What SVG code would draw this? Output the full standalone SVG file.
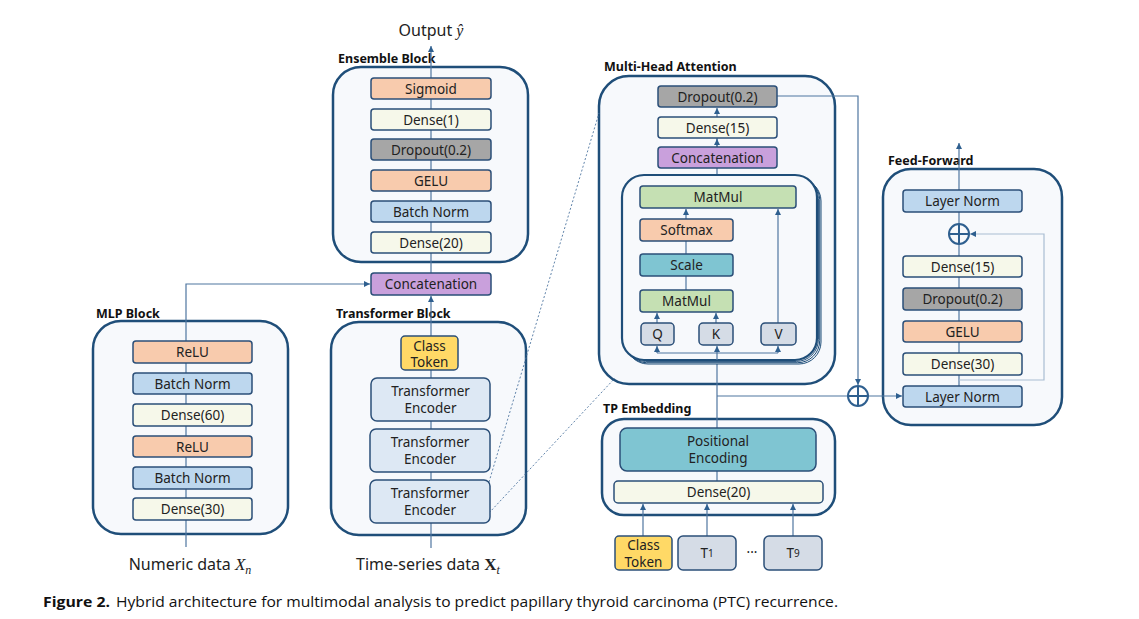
<svg xmlns="http://www.w3.org/2000/svg" width="1139" height="619" viewBox="0 0 1139 619">
<defs>
<style>
.blk{fill:#f7f9fc;stroke:#1f4e79;stroke-width:2.5}
.box{stroke:#2b4f78;stroke-width:1.5}
.or{fill:#f8cbad}.cr{fill:#f6f8ea}.gy{fill:#a6a6a6}.bl{fill:#bdd7ee}.pu{fill:#c9a0dc}
.gr{fill:#c5e0b3}.te{fill:#7fc5d2}.ye{fill:#ffd966}.en{fill:#dde8f4}.qk{fill:#d5dce6}
.t{font-family:"Noto Sans","Open Sans",sans-serif;font-size:13.5px;fill:#222;text-anchor:middle;dominant-baseline:central}
.lbl{font-family:"Noto Sans","Open Sans",sans-serif;font-size:12.5px;font-weight:bold;fill:#111}
.big{font-family:"Noto Sans","Open Sans",sans-serif;font-size:16px;fill:#222}
.m{font-family:"Liberation Serif","DejaVu Serif",serif;font-style:italic}
.ln{stroke:#4f76a0;stroke-width:1.2;fill:none}
.lt{stroke:#a9bdd2;stroke-width:1.2;fill:none}
.dot{stroke:#4f76a0;stroke-width:0.9;fill:none;stroke-dasharray:2 2}
.op{fill:none;stroke:#2e5f8f;stroke-width:2}
</style>
<marker id="ar" viewBox="0 0 8 8" refX="8" refY="4" markerWidth="6" markerHeight="6" orient="auto" markerUnits="userSpaceOnUse">
<path d="M0,0 L8,4 L0,8 z" fill="#2e5f8f"/>
</marker>
</defs>
<rect width="1139" height="619" fill="#ffffff"/>

<!-- block containers -->
<g id="ensemble-block"><rect class="blk" x="333" y="67" width="195" height="195" rx="28"/><text class="lbl" x="338" y="63">Ensemble Block</text></g>
<g id="mlp-block"><rect class="blk" x="93" y="321" width="195" height="213" rx="28"/><text class="lbl" x="96" y="318">MLP Block</text></g>
<g id="transformer-block"><rect class="blk" x="331" y="322" width="195" height="213" rx="28"/><text class="lbl" x="336" y="318">Transformer Block</text></g>
<g id="mha-block"><rect class="blk" x="599" y="76" width="236" height="308" rx="30"/><text class="lbl" x="604" y="71">Multi-Head Attention</text></g>
<g id="ff-block"><rect class="blk" x="883" y="169" width="179" height="256" rx="28"/><text class="lbl" x="888" y="165">Feed-Forward</text></g>
<g id="tp-block"><rect class="blk" x="602" y="419" width="233" height="96" rx="22"/><text class="lbl" x="603" y="413">TP Embedding</text></g>

<!-- connectors -->
<g id="connectors">
<line class="ln" x1="431" y1="273" x2="431" y2="46" marker-end="url(#ar)"/>
<polyline class="ln" points="186,547 186,284 370,284" marker-end="url(#ar)"/>
<line class="ln" x1="431" y1="548" x2="431" y2="296" marker-end="url(#ar)"/>
<line class="dot" x1="489" y1="482" x2="599" y2="113"/>
<line class="dot" x1="489" y1="513" x2="615" y2="378"/>
<line class="ln" x1="717" y1="175" x2="717" y2="108" marker-end="url(#ar)"/>
<line class="ln" x1="717" y1="147" x2="717" y2="139" marker-end="url(#ar)"/>
<polyline class="ln" points="777,96 858,96 858,385" marker-end="url(#ar)"/>
<line class="ln" x1="717" y1="483" x2="717" y2="346" marker-end="url(#ar)"/>
<polyline class="ln" points="717,396 848,396"/>
<line class="ln" x1="868" y1="396" x2="902" y2="396" marker-end="url(#ar)"/>
<line class="ln" x1="959" y1="386" x2="959" y2="143" marker-end="url(#ar)"/>
<polyline class="lt" points="959,380 1044,380 1044,234 970,234" marker-end="url(#ar)"/>
<line class="ln" x1="643" y1="536" x2="643" y2="504" marker-end="url(#ar)"/>
<line class="ln" x1="707" y1="536" x2="707" y2="504" marker-end="url(#ar)"/>
<line class="ln" x1="793" y1="536" x2="793" y2="504" marker-end="url(#ar)"/>
</g>

<!-- ensemble nodes -->
<g id="ens-sigmoid"><rect class="box or" x="371" y="78" width="120" height="21" rx="3"/><text class="t" x="431" y="88.5">Sigmoid</text></g>
<g id="ens-dense1"><rect class="box cr" x="371" y="109" width="120" height="21" rx="3"/><text class="t" x="431" y="119.5">Dense(1)</text></g>
<g id="ens-dropout"><rect class="box gy" x="371" y="139" width="120" height="21" rx="3"/><text class="t" x="431" y="149.5">Dropout(0.2)</text></g>
<g id="ens-gelu"><rect class="box or" x="371" y="170" width="120" height="21" rx="3"/><text class="t" x="431" y="180.5">GELU</text></g>
<g id="ens-bn"><rect class="box bl" x="371" y="201" width="120" height="21" rx="3"/><text class="t" x="431" y="211.5">Batch Norm</text></g>
<g id="ens-dense20"><rect class="box cr" x="371" y="232" width="120" height="21" rx="3"/><text class="t" x="431" y="242.5">Dense(20)</text></g>
<g id="concat"><rect class="box pu" x="371" y="273" width="120" height="22" rx="3"/><text class="t" x="431" y="284">Concatenation</text></g>
<g id="output"><text class="big" x="431" y="36" text-anchor="middle">Output <tspan class="m">ŷ</tspan></text></g>

<!-- MLP nodes -->
<g id="mlp-relu1"><rect class="box or" x="133" y="341" width="119" height="22" rx="3"/><text class="t" x="192.5" y="352">ReLU</text></g>
<g id="mlp-bn1"><rect class="box bl" x="133" y="373" width="119" height="21" rx="3"/><text class="t" x="192.5" y="383.5">Batch Norm</text></g>
<g id="mlp-dense60"><rect class="box cr" x="133" y="404" width="119" height="22" rx="3"/><text class="t" x="192.5" y="415">Dense(60)</text></g>
<g id="mlp-relu2"><rect class="box or" x="133" y="436" width="119" height="21" rx="3"/><text class="t" x="192.5" y="446.5">ReLU</text></g>
<g id="mlp-bn2"><rect class="box bl" x="133" y="467" width="119" height="22" rx="3"/><text class="t" x="192.5" y="478">Batch Norm</text></g>
<g id="mlp-dense30"><rect class="box cr" x="133" y="498" width="119" height="22" rx="3"/><text class="t" x="192.5" y="509">Dense(30)</text></g>
<g id="numeric-input"><text class="big" x="190" y="570" text-anchor="middle">Numeric data <tspan class="m" font-size="17">X</tspan><tspan class="m" font-size="12" dy="4">n</tspan></text></g>

<!-- Transformer nodes -->
<g id="tr-class-token"><rect class="box ye" x="401" y="336" width="57" height="34" rx="4"/><text class="t" x="429.5" y="345.5">Class</text><text class="t" x="429.5" y="361.5">Token</text></g>
<g id="tr-enc1"><rect class="box en" x="371" y="378" width="119" height="43" rx="6"/><text class="t" x="430.5" y="391">Transformer</text><text class="t" x="430.5" y="408">Encoder</text></g>
<g id="tr-enc2"><rect class="box en" x="370" y="429" width="120" height="43" rx="6"/><text class="t" x="430" y="442">Transformer</text><text class="t" x="430" y="459">Encoder</text></g>
<g id="tr-enc3"><rect class="box en" x="370" y="480" width="120" height="43" rx="6"/><text class="t" x="430" y="493">Transformer</text><text class="t" x="430" y="510">Encoder</text></g>
<g id="ts-input"><text class="big" x="428" y="570" text-anchor="middle">Time-series data <tspan font-family="Liberation Serif,serif" font-weight="bold" font-size="17">X</tspan><tspan class="m" font-size="12" dy="4">t</tspan></text></g>

<!-- MHA nodes -->
<g id="mha-dropout"><rect class="box gy" x="658" y="86" width="119" height="21" rx="3"/><text class="t" x="717.5" y="96.5">Dropout(0.2)</text></g>
<g id="mha-dense15"><rect class="box cr" x="658" y="117" width="119" height="21" rx="3"/><text class="t" x="717.5" y="127.5">Dense(15)</text></g>
<g id="mha-concat"><rect class="box pu" x="658" y="147" width="119" height="21" rx="3"/><text class="t" x="717.5" y="157.5">Concatenation</text></g>
<g id="mha-heads">
<rect x="626" y="179" width="195" height="185" rx="22" fill="#f7f9fc" stroke="#1f4e79" stroke-width="1"/>
<rect x="624.7" y="177.7" width="195" height="185" rx="22" fill="#f7f9fc" stroke="#1f4e79" stroke-width="1"/>
<rect x="623.4" y="176.4" width="195" height="185" rx="22" fill="#f7f9fc" stroke="#1f4e79" stroke-width="1"/>
<rect x="622" y="175" width="195" height="185" rx="22" fill="#f7f9fc" stroke="#1f4e79" stroke-width="2.2"/>
</g>
<g id="mha-inner-lines">
<line class="ln" x1="686" y1="290" x2="686" y2="219"/>
<line class="ln" x1="686" y1="219" x2="686" y2="209" marker-end="url(#ar)"/>
<line class="ln" x1="657" y1="323" x2="657" y2="313" marker-end="url(#ar)"/>
<line class="ln" x1="716" y1="323" x2="716" y2="313" marker-end="url(#ar)"/>
<line class="ln" x1="778" y1="323" x2="778" y2="209" marker-end="url(#ar)"/>
<polyline class="ln" points="657,353 778,353"/>
<line class="ln" x1="657" y1="353" x2="657" y2="346" marker-end="url(#ar)"/>
<line class="ln" x1="778" y1="353" x2="778" y2="346" marker-end="url(#ar)"/>
<line class="ln" x1="717" y1="360" x2="717" y2="346" marker-end="url(#ar)"/>
</g>
<g id="mha-matmul2"><rect class="box gr" x="640" y="186" width="156" height="22" rx="3"/><text class="t" x="718" y="197">MatMul</text></g>
<g id="mha-softmax"><rect class="box or" x="640" y="219" width="93" height="22" rx="3"/><text class="t" x="686.5" y="230">Softmax</text></g>
<g id="mha-scale"><rect class="box te" x="640" y="254" width="93" height="22" rx="3"/><text class="t" x="686.5" y="265">Scale</text></g>
<g id="mha-matmul1"><rect class="box gr" x="640" y="290" width="93" height="22" rx="3"/><text class="t" x="686.5" y="301">MatMul</text></g>
<g id="mha-q"><rect class="box qk" x="641" y="323" width="33" height="22" rx="4"/><text class="t" x="657.5" y="334">Q</text></g>
<g id="mha-k"><rect class="box qk" x="699" y="323" width="34" height="22" rx="4"/><text class="t" x="716" y="334">K</text></g>
<g id="mha-v"><rect class="box qk" x="761" y="323" width="35" height="22" rx="4"/><text class="t" x="778.5" y="334">V</text></g>

<!-- add nodes -->
<g id="add1"><circle class="op" cx="858" cy="396" r="10"/><line class="op" x1="848" y1="396" x2="868" y2="396"/><line class="op" x1="858" y1="386" x2="858" y2="406"/></g>

<!-- FF nodes -->
<g id="ff-ln2"><rect class="box bl" x="903" y="190" width="119" height="22" rx="3"/><text class="t" x="962.5" y="201">Layer Norm</text></g>
<g id="add2"><circle class="op" cx="959" cy="234" r="10" fill="#f7f9fc"/><line class="op" x1="949" y1="234" x2="969" y2="234"/><line class="op" x1="959" y1="224" x2="959" y2="244"/></g>
<g id="ff-dense15"><rect class="box cr" x="903" y="256" width="119" height="21" rx="3"/><text class="t" x="962.5" y="266.5">Dense(15)</text></g>
<g id="ff-dropout"><rect class="box gy" x="903" y="288" width="119" height="22" rx="3"/><text class="t" x="962.5" y="299">Dropout(0.2)</text></g>
<g id="ff-gelu"><rect class="box or" x="903" y="321" width="119" height="21" rx="3"/><text class="t" x="962.5" y="331.5">GELU</text></g>
<g id="ff-dense30"><rect class="box cr" x="903" y="353" width="119" height="22" rx="3"/><text class="t" x="962.5" y="364">Dense(30)</text></g>
<g id="ff-ln1"><rect class="box bl" x="903" y="386" width="119" height="21" rx="3"/><text class="t" x="962.5" y="396.5">Layer Norm</text></g>

<!-- TP nodes -->
<g id="tp-pe"><rect class="box te" x="620" y="428" width="196" height="43" rx="7"/><text class="t" x="718" y="441">Positional</text><text class="t" x="718" y="458">Encoding</text></g>
<g id="tp-dense20"><rect class="box cr" x="614" y="481" width="209" height="22" rx="4"/><text class="t" x="718.5" y="492">Dense(20)</text></g>
<g id="in-class-token"><rect class="box ye" x="615" y="536" width="57" height="34" rx="4"/><text class="t" x="643.5" y="545">Class</text><text class="t" x="643.5" y="561.5">Token</text></g>
<g id="in-t1"><rect class="box qk" x="678" y="536" width="58" height="34" rx="5"/><text class="t" x="707" y="553">T<tspan font-size="10">1</tspan></text></g>
<text class="t" x="752" y="552">···</text>
<g id="in-t9"><rect class="box qk" x="764" y="536" width="58" height="34" rx="5"/><text class="t" x="793" y="553">T<tspan font-size="10">9</tspan></text></g>

<!-- caption -->
<text x="43" y="607" font-family="Open Sans,Noto Sans,sans-serif" font-size="15" font-weight="bold" fill="#111" textLength="67" lengthAdjust="spacingAndGlyphs">Figure 2.</text>
<text x="116" y="607" font-family="Open Sans,Noto Sans,sans-serif" font-size="15" fill="#111" textLength="722" lengthAdjust="spacingAndGlyphs">Hybrid architecture for multimodal analysis to predict papillary thyroid carcinoma (PTC) recurrence.</text>
</svg>
